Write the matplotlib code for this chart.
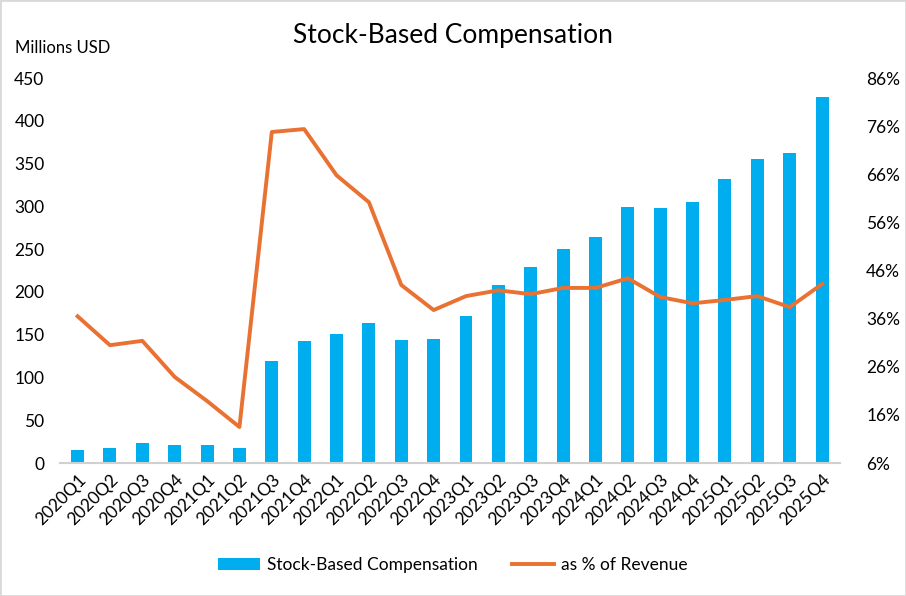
import numpy as np
import matplotlib.pyplot as plt
from matplotlib.ticker import FuncFormatter

quarters = [f"{y}Q{q}" for y in range(2020, 2026) for q in range(1, 5)]
sbc = [15, 18, 23, 21, 21, 18, 119, 143, 151, 164, 144, 145,
       172, 208, 229, 250, 264, 299, 298, 305, 332, 355, 362, 428]
pct_rev = [36.5, 30.5, 31.4, 23.9, 18.9, 13.5, 74.8, 75.4, 65.8, 60.2, 43.0, 37.8,
           40.7, 41.9, 41.1, 42.4, 42.4, 44.4, 40.5, 39.2, 39.9, 40.7, 38.4, 43.2]

plt.rcParams['font.family'] = ['Lato', 'DejaVu Sans']

fig = plt.figure(figsize=(9.06, 5.96), dpi=100)
ax = fig.add_axes([0.066, 0.223, 0.861, 0.646])
ax2 = ax.twinx()

x = np.arange(len(quarters))
b = ax.bar(x, sbc, width=0.4, color='#00AEEF', label='Stock-Based Compensation', zorder=2)
l, = ax2.plot(x, pct_rev, color='#E97132', lw=2.8, label='as % of Revenue', zorder=3)

ax.set_ylim(0, 450)
ax.set_yticks(range(0, 451, 50))
ax2.set_ylim(6, 86)
ax2.set_yticks(range(6, 87, 10))
ax2.yaxis.set_major_formatter(FuncFormatter(lambda v, p: f"{v:.0f}%"))
ax.set_xlim(-0.55, len(quarters) - 0.45)
ax.set_xticks(x)
ax.set_xticklabels(quarters, rotation=45, ha='right', rotation_mode='anchor')

for a in (ax, ax2):
    for s in ['top', 'left', 'right']:
        a.spines[s].set_visible(False)
    a.tick_params(length=0, labelsize=12.5)
ax2.spines['bottom'].set_visible(False)
ax.spines['bottom'].set_color('#D0D0D0')
ax.spines['bottom'].set_linewidth(1.5)
ax.tick_params(axis='x', pad=6)
ax.tick_params(axis='y', pad=11)
ax2.tick_params(axis='y', pad=19)

fig.text(0.5, 0.94, 'Stock-Based Compensation', ha='center', va='center', fontsize=19)
fig.text(0.017, 0.92, 'Millions USD', ha='left', va='center', fontsize=12)

fig.legend(handles=[b, l], loc='center', bbox_to_anchor=(0.5, 0.052), ncol=2,
           frameon=False, fontsize=12.5, handlelength=2.4, handletextpad=0.4,
           columnspacing=2.0)

fig.patches.append(plt.Rectangle((0, 0), 1, 1, transform=fig.transFigure,
                                 fill=False, edgecolor='#D9D9D9', lw=2))

fig.savefig('out.png', dpi=100)
